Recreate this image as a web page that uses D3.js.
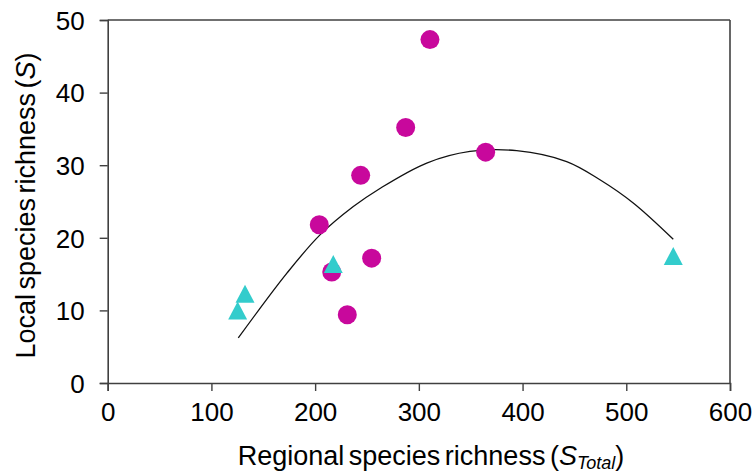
<!DOCTYPE html>
<html>
<head>
<meta charset="utf-8">
<script src="https://cdn.jsdelivr.net/npm/d3@7"></script>
<style>
  html, body { margin: 0; padding: 0; background: #fff; }
  svg { display: block; font-family: "Liberation Sans", Arial, sans-serif; }
</style>
</head>
<body>
<svg id="chart" width="756" height="474"></svg>
<script>
// Data
const circleX = [310.7, 287.3, 364.4, 243.9, 204.0, 254.5, 216.0, 231.0];
const circleY = [47.3, 35.2, 31.8, 28.6, 21.8, 17.2, 15.3, 9.4];
const triangleX = [217.5, 132.4, 125.3, 545.3];
const triangleY = [16.4, 12.3, 10.0, 17.5];
// fitted trend curve
const curveX = [125.9, 172.6, 204.7, 236.8, 262.5, 307.6, 349.3, 394.3, 442.5, 474.6, 506.7, 545.3];
const curveY = [6.2, 15.1, 20.4, 24.3, 26.8, 30.3, 31.9, 32.0, 30.5, 28.0, 24.8, 19.8];
const xTicks = [0, 100, 200, 300, 400, 500, 600];
const yTicks = [0, 10, 20, 30, 40, 50];

const W = 756, H = 474;
const margin = { left: 107.7, top: 20, right: 26, bottom: 91 };
const svg = d3.select("#chart");

const x = d3.scaleLinear().domain([0, 600]).range([margin.left, W - margin.right]);
const y = d3.scaleLinear().domain([0, 50]).range([H - margin.bottom, margin.top]);

const axisColor = "#404040";

// frame (top and right)
svg.append("line").attr("x1", x(0)).attr("x2", x(600)).attr("y1", y(50)).attr("y2", y(50))
  .attr("stroke", axisColor).attr("stroke-width", 1.6);
svg.append("line").attr("x1", x(600)).attr("x2", x(600)).attr("y1", y(50)).attr("y2", y(0))
  .attr("stroke", axisColor).attr("stroke-width", 1.6);

const xAxis = svg.append("g").attr("transform", `translate(0,${y(0)})`)
  .call(d3.axisBottom(x).tickValues(xTicks).tickSize(8).tickPadding(12).tickFormat(d3.format("d")));
const yAxis = svg.append("g").attr("transform", `translate(${x(0)},0)`)
  .call(d3.axisLeft(y).tickValues(yTicks).tickSize(8).tickPadding(15).tickFormat(d3.format("d")));

[xAxis, yAxis].forEach(g => {
  g.select(".domain").attr("stroke", axisColor).attr("stroke-width", 1.6);
  g.selectAll(".tick line").attr("stroke", axisColor).attr("stroke-width", 1.4);
  g.selectAll(".tick text").attr("fill", "#000").style("font-size", "26px")
    .style("font-family", "'Liberation Sans', Arial, sans-serif");
});
yAxis.selectAll(".tick text").attr("dy", "0.36em");

// trend curve
const curveData = curveX.map((d, i) => [d, curveY[i]]);
svg.append("path")
  .datum(curveData)
  .attr("fill", "none")
  .attr("stroke", "#111")
  .attr("stroke-width", 1.3)
  .attr("d", d3.line().x(d => x(d[0])).y(d => y(d[1])).curve(d3.curveCatmullRom.alpha(0.5)));

// magenta circles
svg.append("g").selectAll("circle")
  .data(circleX.map((d, i) => [d, circleY[i]]))
  .join("circle")
  .attr("cx", d => x(d[0])).attr("cy", d => y(d[1]))
  .attr("r", 9.5)
  .attr("fill", "#C8089C");

// cyan triangles
const tri = (cx, cy) => {
  const w = 19, h = 18;
  return `M${cx},${cy - h / 2}L${cx + w / 2},${cy + h / 2}L${cx - w / 2},${cy + h / 2}Z`;
};
svg.append("g").selectAll("path")
  .data(triangleX.map((d, i) => [d, triangleY[i]]))
  .join("path")
  .attr("d", d => tri(x(d[0]), y(d[1])))
  .attr("fill", "#33CCCC");

// axis titles
const xt = svg.append("text")
  .attr("x", 431).attr("y", 465)
  .attr("text-anchor", "middle")
  .style("font-size", "27px").style("word-spacing", "-3px")
  .attr("fill", "#000");
xt.append("tspan").text("Regional species richness (");
xt.append("tspan").text("S").style("font-style", "italic");
xt.append("tspan").text("Total").style("font-style", "italic").style("font-size", "18px").attr("dy", 4);
xt.append("tspan").text(")").attr("dy", -4);

const yt = svg.append("text")
  .attr("transform", `translate(35,${205.5}) rotate(-90)`)
  .attr("text-anchor", "middle")
  .style("font-size", "27px").style("word-spacing", "-3px")
  .attr("fill", "#000");
yt.append("tspan").text("Local species richness (");
yt.append("tspan").text("S").style("font-style", "italic");
yt.append("tspan").text(")");
</script>
</body>
</html>
